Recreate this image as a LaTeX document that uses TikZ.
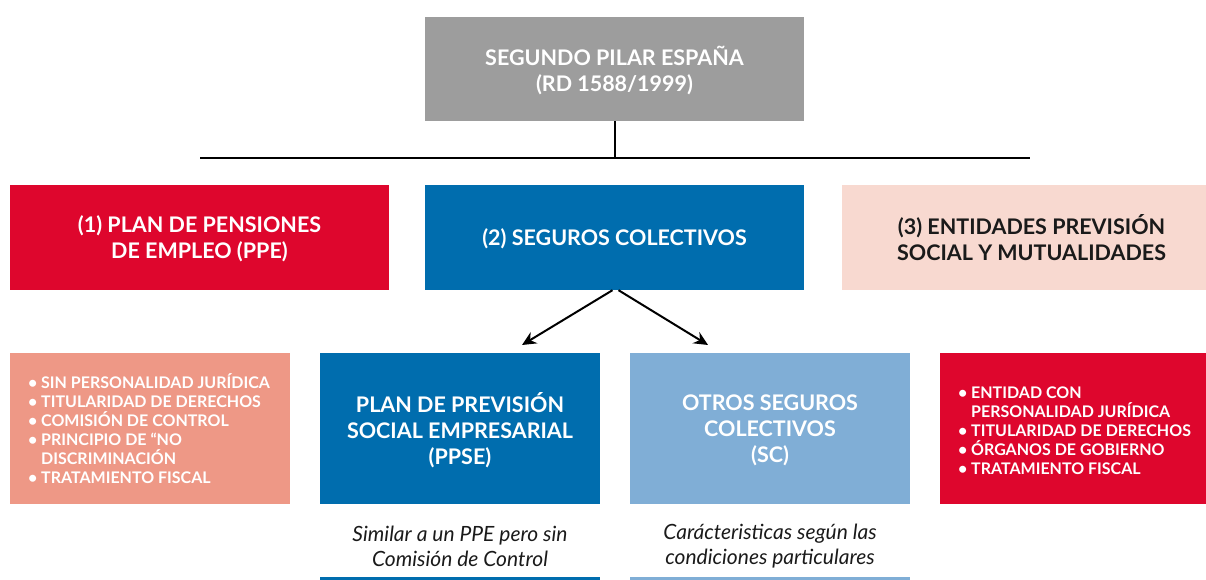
\documentclass[tikz,border=0pt]{standalone}
\usepackage{fontspec}
\setmainfont{Lato}
\usepackage{tikz}
\usetikzlibrary{arrows.meta}
\definecolor{pilargrey}{HTML}{9D9D9D}
\definecolor{pilarred}{HTML}{DE062D}
\definecolor{pilarblue}{HTML}{006DAE}
\definecolor{pilarpink}{HTML}{F8D9D0}
\definecolor{pilarsalmon}{HTML}{EE9886}
\definecolor{pilarlight}{HTML}{80AED6}
\definecolor{pilarink}{HTML}{1A1A1A}

\begin{document}
\begin{tikzpicture}[x=1pt,y=-1pt,
    box/.style={inner sep=0pt, align=center, text=white, text depth=-2pt,
        font=\bfseries\fontsize{21.5}{26}\selectfont},
    listtext/.style={inner sep=0pt, align=left, text=white, anchor=west,
        font=\bfseries\fontsize{16}{19}\selectfont},
    note/.style={inner sep=0pt, align=center, text=pilarink,
        font=\itshape\fontsize{21}{25}\selectfont},
    bus/.style={line width=2.5pt, black},
    link/.style={line width=2pt, black, -{Stealth[length=14pt,width=13pt]}}]
        \clip (0,0) rectangle (1206,580);
        % top level
        \node[box, fill=pilargrey, minimum width=379pt, minimum height=104pt] (pilar) at (614.5,69) {SEGUNDO PILAR ESPAÑA\\(RD 1588/1999)};
        \coordinate (busL) at (200,158);
        \coordinate (busR) at (1030,158);
        \draw[line width=2pt] (pilar.south) -- (pilar.south |- busL);
        \draw[bus] (busL) -- (busR);

        % second level
        \node[box, fill=pilarred, minimum width=379pt, minimum height=105pt] (ppe) at (199.5,237.5) {(1) PLAN DE PENSIONES\\DE EMPLEO (PPE)};
        \node[box, fill=pilarblue, minimum width=379pt, minimum height=105pt] (colectivos) at (614.5,237.5) {(2) SEGUROS COLECTIVOS};
        \node[box, fill=pilarpink, text=pilarink, minimum width=379pt, minimum height=105pt] (mutualidades) at (1031.5,237.5) {(3) ENTIDADES PREVISIÓN\\SOCIAL Y MUTUALIDADES};

        % third level
        \node[box, fill=pilarsalmon, minimum width=280pt, minimum height=151pt] (ppelist) at (150,428.5) {};
        \node[box, fill=pilarblue, minimum width=280pt, minimum height=151pt] (ppse) at (460,428.5) {PLAN DE PREVISIÓN\\SOCIAL EMPRESARIAL\\(PPSE)};
        \node[box, fill=pilarlight, minimum width=280pt, minimum height=151pt] (sc) at (770,428.5) {OTROS SEGUROS\\COLECTIVOS\\(SC)};
        \node[box, fill=pilarred, minimum width=280pt, minimum height=151pt] (eps) at (1080,428.5) {};

        \node[listtext] (ppeitems) at ([xshift=18pt]ppelist.west) {\textbullet\ SIN PERSONALIDAD JURÍDICA\\
            \textbullet\ TITULARIDAD DE DERECHOS\\
            \textbullet\ COMISIÓN DE CONTROL\\
            \textbullet\ PRINCIPIO DE “NO\\
            \phantom{\textbullet\ }DISCRIMINACIÓN\\
            \textbullet\ TRATAMIENTO FISCAL};
        \node[listtext] (epsitems) at ([xshift=18pt,yshift=-2pt]eps.west) {\textbullet\ ENTIDAD CON\\
            \phantom{\textbullet\ }PERSONALIDAD JURÍDICA\\
            \textbullet\ TITULARIDAD DE DERECHOS\\
            \textbullet\ ÓRGANOS DE GOBIERNO\\
            \textbullet\ TRATAMIENTO FISCAL};

        \coordinate (ppsetip) at (522,345);
        \coordinate (sctip) at (708,345);
        \draw[link] ([xshift=-2pt]colectivos.south) -- (ppsetip);
        \draw[link] ([xshift=4pt]colectivos.south) -- (sctip);

        % notes under the boxes
        \node[note] (ppsenote) at (460,546) {Similar a un PPE pero sin\\Comisión de Control};
        \node[note] (scnote) at (770,546) {Carácteristicas según las\\condiciones particulares};
        \fill[pilarblue] (320,577) rectangle (600,585);
        \fill[pilarlight] (630,577) rectangle (910,585);
    \end{tikzpicture}
\end{document}
